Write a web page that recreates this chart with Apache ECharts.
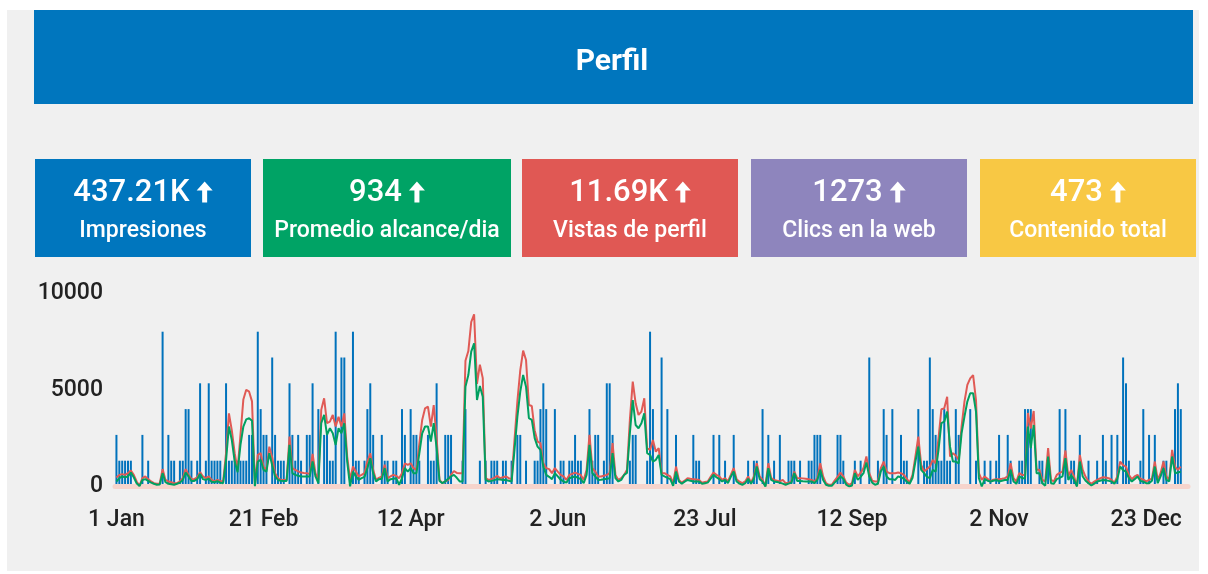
<!DOCTYPE html>
<html>
<head>
<meta charset="utf-8">
<script src="https://cdn.jsdelivr.net/npm/echarts@6/dist/echarts.min.js"></script>
<style>
html,body{margin:0;padding:0;background:#fff;}
#c{width:1208px;height:574px;}
</style>
</head>
<body>
<div id="c"></div>
<script>
// ---------- data ----------
const titleText = 'Perfil';
const cardValues = ['437.21K', '934', '11.69K', '1273', '473'];
const cardLabels = ['Impresiones', 'Promedio alcance/dia', 'Vistas de perfil', 'Clics en la web', 'Contenido total'];
const cardColors = ['#0076be', '#00a365', '#e05854', '#8e85bd', '#f8c844'];

const monthNames = ['Jan','Feb','Mar','Apr','May','Jun','Jul','Aug','Sep','Oct','Nov','Dec'];
const startDate = [2024, 0, 1];
const dayCount = 372;

const yTickValues = [0, 5000, 10000];

// daily red line
const redSeries = [
  465,600,640,600,690,830,600,260,40,430,
  520,380,260,170,140,140,900,340,260,220,
  170,170,260,430,900,600,380,380,480,740,
  520,430,520,340,260,340,290,260,1720,3780,
  2900,1720,860,2670,4500,5000,4900,4400,100,1630,
  1720,1030,860,2060,1500,690,430,340,340,340,
  2580,950,860,780,720,700,690,640,1690,690,
  340,3960,4560,3270,3350,3700,3100,3600,3100,3780,
  1550,340,1030,770,520,600,690,1290,1720,860,
  340,450,520,1120,430,520,600,550,430,690,
  1200,1120,1200,950,860,2200,3440,4040,4130,3100,
  4210,2500,340,170,260,340,600,800,700,690,
  690,6500,7000,8500,8900,5300,6300,5600,430,340,
  380,450,550,430,480,520,430,380,2400,4400,
  6000,7020,6540,4210,4160,2900,2320,2240,1200,950,
  900,690,950,770,600,520,340,600,650,720,
  650,600,340,860,2670,950,770,520,520,560,
  600,690,2240,600,340,430,600,860,3440,5420,
  4300,3700,3870,4560,1980,1890,2400,1800,1980,700,
  690,600,520,170,1030,340,200,300,430,400,
  380,360,340,200,230,260,500,720,600,520,
  340,430,260,600,950,380,250,170,260,520,
  200,520,1200,520,340,30,1200,430,340,300,
  260,340,170,200,260,770,430,430,420,400,
  370,340,260,430,1200,520,170,90,90,300,
  500,720,520,200,90,170,860,520,700,950,
  1550,690,300,260,260,950,1290,770,690,690,
  690,720,690,600,400,200,600,1550,2580,1120,
  770,900,1030,1380,1200,2490,3990,4040,4640,1550,
  1720,1600,1380,3100,4390,5250,5590,5760,4470,690,
  340,520,400,260,350,380,380,400,430,520,
  1200,430,260,690,600,600,3800,3000,3900,860,
  860,340,260,1980,340,260,600,700,770,1860,
  520,860,520,30,1630,860,500,260,140,250,
  340,420,480,460,430,340,200,520,1290,1100,
  1030,600,380,520,600,400,350,260,340,400,
  1290,340,690,1290,520,340,1890,1030,860,1030
];

// daily green line
const greenSeries = [
  260,430,520,480,520,720,480,170,20,340,
  380,290,200,140,90,100,690,220,140,120,
  90,140,200,340,720,520,290,290,380,650,
  380,340,400,240,220,280,200,170,1380,3100,
  2400,1290,740,2150,3100,3470,3530,3400,20,1290,
  1380,860,770,1720,1100,520,340,300,290,290,
  2150,690,600,560,520,520,520,520,1290,520,
  170,3270,3700,2670,3010,2750,2150,3010,2750,3270,
  1290,10,770,520,340,430,500,950,1460,690,
  260,380,400,950,260,380,400,430,90,430,
  950,770,950,690,690,1700,2750,3100,3100,2320,
  3270,2000,290,170,260,400,520,600,450,260,
  260,5160,5760,6970,7400,4470,5190,4640,340,260,
  290,330,380,360,340,340,300,260,1890,3600,
  4900,5760,5160,3530,3440,2500,2060,1890,1030,600,
  500,380,690,520,350,260,200,430,480,520,
  450,380,170,600,2150,690,520,340,350,380,
  400,430,1720,430,260,340,600,700,2750,4470,
  3180,3010,3270,3780,1720,1630,1290,1380,1630,600,
  520,450,380,40,770,260,140,250,340,300,
  260,260,260,140,170,200,400,600,480,380,
  260,340,170,500,770,260,150,90,170,400,
  140,400,1030,380,260,0,950,340,260,230,
  200,150,90,150,200,690,290,290,270,260,
  260,260,170,340,860,340,90,40,40,200,
  350,520,400,100,0,50,690,340,500,690,
  1240,520,200,90,140,770,1030,520,380,380,
  340,520,480,400,250,140,450,1290,2060,860,
  690,500,430,860,770,1890,3270,3350,3870,2060,
  1290,1290,1200,2750,3610,4390,4820,4820,3870,430,
  0,380,300,260,300,340,260,300,340,340,
  860,260,140,520,430,430,3100,1980,3180,690,
  690,170,40,1550,170,140,380,450,520,1460,
  340,600,340,0,1290,520,300,170,50,150,
  260,300,340,320,290,260,140,380,1030,850,
  770,430,260,380,520,290,250,170,170,300,
  1030,170,520,950,340,260,1550,690,720,770
];

// daily blue bars (content count)
const barSeries = [
  2,1,1,1,1,1,0,0,0,2,
  0,1,0,0,0,0,6,0,2,1,
  1,0,1,1,3,3,1,0,1,4,
  0,1,4,1,1,1,1,0,4,1,
  1,1,1,1,1,1,2,2,0,6,
  3,2,2,0,5,2,1,1,1,0,
  4,2,1,2,1,0,2,2,4,0,
  3,0,2,2,1,1,6,0,5,5,
  0,0,6,1,1,0,1,3,4,2,
  0,0,2,1,1,0,1,1,0,3,
  2,0,3,2,2,1,0,0,2,1,
  1,4,0,0,2,2,2,0,0,0,
  1,3,0,0,0,0,1,0,1,0,
  1,1,1,0,1,1,0,1,0,2,
  2,0,1,0,0,1,1,3,4,3,
  0,0,3,0,1,1,0,1,1,2,
  1,1,0,0,3,1,2,2,0,1,
  4,4,2,0,0,0,0,0,1,2,
  2,0,0,0,1,6,3,0,0,5,
  0,3,0,0,2,0,0,0,0,0,
  2,1,1,0,0,0,0,2,0,2,
  0,1,0,0,2,0,0,0,0,1,
  0,1,1,0,3,0,2,0,1,0,
  2,0,0,1,1,1,0,1,0,0,
  1,1,2,2,2,0,0,0,0,0,
  2,2,1,0,0,0,1,0,1,0,
  0,5,0,0,1,0,3,2,0,3,
  0,0,2,1,1,0,0,0,3,0,
  1,1,5,3,2,1,1,3,1,1,
  0,3,2,0,0,0,3,0,1,0,
  0,1,0,1,0,1,2,0,0,2,
  1,0,0,1,1,3,3,3,0,0,
  1,1,0,1,0,0,0,3,0,3,
  0,1,1,0,2,0,0,1,0,0,
  1,0,2,1,0,2,0,2,0,5,
  4,1,0,0,0,1,3,0,2,0,
  2,0,0,1,1,0,0,3,4,3
];

// ---------- build ----------
const categories = [];
for (let i = 0; i < dayCount; i++) {
  const d = new Date(Date.UTC(startDate[0], startDate[1], startDate[2] + i));
  categories.push(d.getUTCDate() + ' ' + monthNames[d.getUTCMonth()]);
}

const FONT = 'Roboto, "Noto Sans", sans-serif';
const valueFont = '500 31px Roboto, "Noto Sans", sans-serif';
const measureCtx = document.createElement('canvas').getContext('2d');
function textWidth(t, font) { measureCtx.font = font; return measureCtx.measureText(t).width; }

const cardBoxes = [[35,216],[263,248],[522,216],[751,216],[980,216]];
const graphics = [
  {type:'rect', z:-10, shape:{x:7,y:10,width:1192,height:561}, style:{fill:'#f0f0f0'}},
  {type:'rect', z:-9, shape:{x:34,y:10,width:1159,height:94}, style:{fill:'#0076be'}},
  {type:'text', z:-8, x:612, y:62, style:{text:titleText, textAlign:'center', textVerticalAlign:'middle', align:'center', verticalAlign:'middle', fontSize:30, fontWeight:'bold', fontFamily:FONT, fill:'#fff'}}
];
const arrowGap = 7, arrowW = 16, arrowH = 21, headH = 9, shaftW = 5;
cardBoxes.forEach((b, k) => {
  const cx = b[0] + b[1] / 2;
  graphics.push({type:'rect', z:-9, shape:{x:b[0],y:159,width:b[1],height:98}, style:{fill:cardColors[k]}});
  const tw = textWidth(cardValues[k], valueFont);
  const total = tw + arrowGap + arrowW;
  const left = cx - total / 2;
  graphics.push({type:'text', z:-8, x:left, y:193, style:{
    text:cardValues[k], textAlign:'left', textVerticalAlign:'middle', align:'left', verticalAlign:'middle',
    fontSize:31, fontWeight:500, fontFamily:FONT, fill:'#fff'
  }});
  const ax = left + tw + arrowGap + arrowW / 2;
  const top = 193 - arrowH / 2 - 1;
  graphics.push({type:'polygon', z:-8, shape:{points:[
    [ax, top], [ax + arrowW / 2, top + headH], [ax + shaftW / 2, top + headH],
    [ax + shaftW / 2, top + arrowH], [ax - shaftW / 2, top + arrowH],
    [ax - shaftW / 2, top + headH], [ax - arrowW / 2, top + headH]
  ]}, style:{fill:'#fff'}});
  graphics.push({type:'text', z:-8, x:cx, y:231, style:{text:cardLabels[k], textAlign:'center', textVerticalAlign:'middle', align:'center', verticalAlign:'middle', fontSize:23, fontWeight:500, fontFamily:FONT, fill:'#fff'}});
});

const chart = echarts.init(document.getElementById('c'), null, {renderer:'canvas'});
chart.setOption({
  animation:false,
  backgroundColor:'#ffffff',
  graphic: graphics,
  grid:{left:115, right:20, top:293, bottom:87.5},
  xAxis:{
    type:'category', data:categories, boundaryGap:true, z:2,
    axisLine:{show:true, lineStyle:{color:'#f6d4cc', width:5}},
    axisTick:{show:false},
    axisLabel:{interval:50, fontSize:23, fontWeight:500, fontFamily:FONT, color:'#222', margin:22, hideOverlap:false}
  },
  yAxis:[
    {type:'value', min:yTickValues[0], max:yTickValues[yTickValues.length-1], interval:yTickValues[1]-yTickValues[0],
     axisLine:{show:false}, axisTick:{show:false}, splitLine:{show:false},
     axisLabel:{fontSize:23, fontWeight:500, fontFamily:FONT, color:'#222', margin:12, formatter:(v) => String(v)}},
    {type:'value', min:0, max:7.5, show:false, splitLine:{show:false}}
  ],
  series:[
    {name:'Contenido', type:'bar', yAxisIndex:1, data:barSeries, barWidth:2, z:1, itemStyle:{color:'#0072bc'}},
    {name:'Vistas', type:'line', data:redSeries, showSymbol:false, symbol:'none', z:3, lineStyle:{color:'#e05a55', width:2}},
    {name:'Alcance', type:'line', data:greenSeries, showSymbol:false, symbol:'none', z:4, lineStyle:{color:'#00a060', width:2}}
  ]
});
</script>
</body>
</html>
